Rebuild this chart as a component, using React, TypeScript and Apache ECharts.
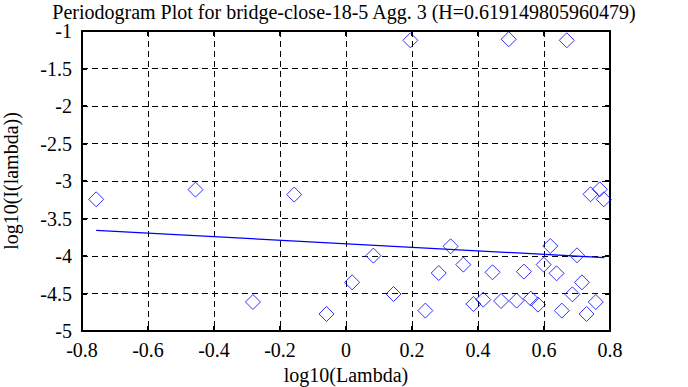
import React, { useEffect, useRef } from "react";
import * as echarts from "echarts";

const TITLE = "Periodogram Plot for bridge-close-18-5 Agg. 3 (H=0.619149805960479)";
const X_NAME = "log10(Lambda)";
const Y_NAME = "log10(I(lambda))";

const logLambda = [
  -0.757, -0.456, -0.157, -0.282, -0.059, 0.0185, 0.083, 0.195, 0.493, 0.669,
  0.144, 0.2405, 0.281, 0.317, 0.3555, 0.386, 0.416, 0.444, 0.47, 0.517,
  0.539, 0.56, 0.582, 0.599, 0.619, 0.638, 0.654, 0.686, 0.7, 0.715,
  0.729, 0.757, 0.741, 0.769, 0.781,
];
const logI = [
  -3.244, -3.115, -3.181, -4.613, -4.773, -4.351, -3.995, -1.124, -1.11, -1.124,
  -4.507, -4.728, -4.227, -3.871, -4.115, -4.64, -4.582, -4.217, -4.6, -4.595,
  -4.208, -4.568, -4.648, -4.115, -3.867, -4.231, -4.728, -4.511, -3.991, -4.351,
  -4.773, -4.613, -3.177, -3.111, -3.244,
];
const fitX = [-0.757, 0.783];
const fitY = [-3.659, -4.021];

const FONT = "Liberation Serif";

export default function App() {
  const ref = useRef<HTMLDivElement>(null);
  useEffect(() => {
    if (!ref.current) return;
    const chart = echarts.init(ref.current, undefined, { renderer: "svg" });
    const axisCommon = {
      type: "value" as const,
      splitLine: { show: false },
      axisTick: { show: true, inside: true, length: 5, lineStyle: { color: "#000", width: 2 } },
      axisLine: { show: true, onZero: false, lineStyle: { color: "#000", width: 2 } },
    };
    chart.setOption({
      animation: false,
      backgroundColor: "#fff",
      textStyle: { fontFamily: FONT },
      title: {
        text: TITLE,
        left: "center",
        top: -3,
        textStyle: { fontFamily: FONT, fontSize: 20, lineHeight: 20, fontWeight: "normal", color: "#000" },
      },
      grid: {
        left: 82,
        top: 31,
        right: 78,
        bottom: 56,
        containLabel: false,
        outerBoundsMode: "none",
      },
      xAxis: [
        {
          ...axisCommon,
          min: -0.8,
          max: 0.8,
          interval: 0.2,
          position: "bottom",
          name: X_NAME,
          nameLocation: "middle",
          nameGap: 33,
          nameTextStyle: { fontFamily: FONT, fontSize: 20, color: "#000" },
          axisLabel: {
            fontFamily: FONT,
            fontSize: 20,
            color: "#000",
            margin: 9,
            formatter: (v: number) => String(Math.round(v * 10) / 10),
          },
          splitLine: { show: true, lineStyle: { color: "#000", type: [6, 4], width: 1 } },
        },
        {
          ...axisCommon,
          min: -0.8,
          max: 0.8,
          interval: 0.2,
          position: "top",
          axisLabel: { show: false },
        },
      ],
      yAxis: [
        {
          ...axisCommon,
          min: -5,
          max: -1,
          interval: 0.5,
          position: "left",
          name: Y_NAME,
          nameLocation: "middle",
          nameGap: 61,
          nameTextStyle: { fontFamily: FONT, fontSize: 20, color: "#000" },
          axisLabel: {
            fontFamily: FONT,
            fontSize: 20,
            color: "#000",
            margin: 10,
            formatter: (v: number) => String(Math.round(v * 10) / 10),
          },
          splitLine: { show: true, lineStyle: { color: "#000", type: [6, 4], width: 1 } },
        },
        {
          ...axisCommon,
          min: -5,
          max: -1,
          interval: 0.5,
          position: "right",
          axisLabel: { show: false },
        },
      ],
      series: [
        {
          type: "scatter",
          data: logLambda.map((x, i) => [x, logI[i]]),
          symbol: "diamond",
          symbolSize: 15,
          itemStyle: { color: "transparent", borderColor: "#0000ff", borderWidth: 1 },
          z: 3,
        },
        {
          type: "line",
          data: fitX.map((x, i) => [x, fitY[i]]),
          showSymbol: false,
          symbol: "none",
          lineStyle: { color: "#0000ff", width: 1.3 },
          z: 4,
        },
      ],
    });
    return () => chart.dispose();
  }, []);
  return (
    <div
      ref={ref}
      style={{ position: "fixed", left: 0, top: 0, width: 688, height: 387 }}
    />
  );
}
